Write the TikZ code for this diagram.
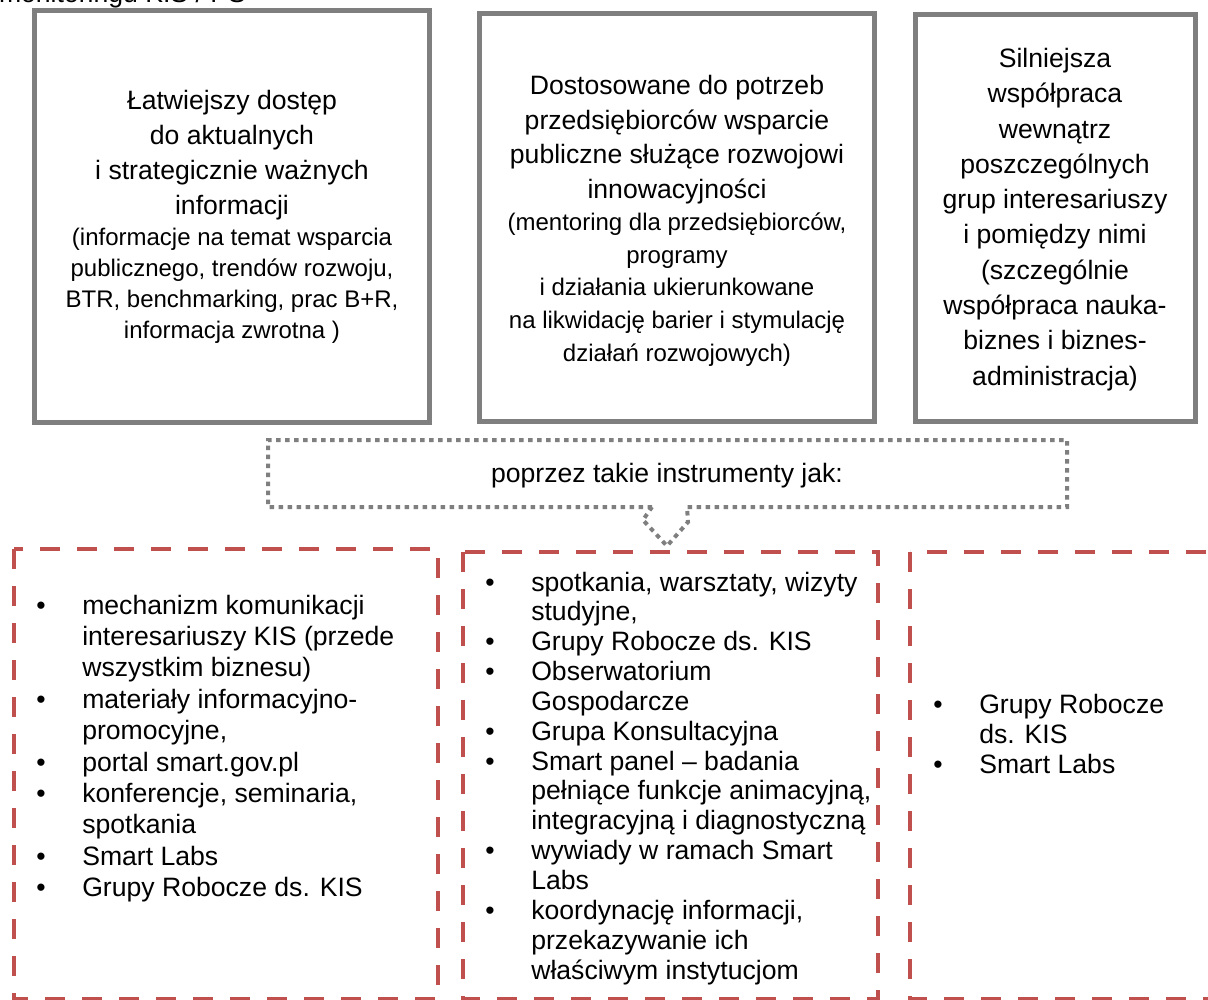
\documentclass[tikz,border=0pt]{standalone}
\usepackage{fontspec}
\setmainfont{Liberation Sans}
\definecolor{boxgray}{HTML}{7F7F7F}
\definecolor{accred}{HTML}{C0504D}
\newcommand\lbul{\makebox[46pt][l]{•}}
\newcommand\lind{\hspace*{46pt}}
\begin{document}
\begin{tikzpicture}[x=1pt,y=-1pt,
  graybox/.style={draw=boxgray, line width=5pt},
  redbox/.style={draw=accred, line width=4pt, dash pattern=on 20pt off 17pt},
  dotbox/.style={draw=boxgray, line width=4pt, dash pattern=on 4.5pt off 4.5pt},
  txt/.style={inner sep=0pt, outer sep=0pt, anchor=base},
  lst/.style={inner sep=0pt, outer sep=0pt, anchor=base west}]
\useasboundingbox (0,0) rectangle (1208,1000);
\fill[white] (0,0) rectangle (1208,1000);

% cut-off heading (cut by the page edge, as in the reference)
\node[lst, font=\fontsize{26.6}{30}\selectfont] (head) at (-1,3) {monitoringu KIS / PS};

% top gray boxes
\draw[graybox] (34.5,10.5) rectangle (429.5,422.5);
\draw[graybox] (479.5,13.5) rectangle (874.5,421);
\draw[graybox] (915.5,14.5) rectangle (1195,421);

\node[txt, font=\fontsize{26.6}{35}\selectfont] (t1a) at (232,109.5)
  {\begin{tabular}[t]{@{}c@{}}Łatwiejszy dostęp\\do aktualnych\\ i strategicznie ważnych\\informacji\end{tabular}};
\node[txt, font=\fontsize{24}{31}\selectfont] (t1b) at (232,246)
  {\begin{tabular}[t]{@{}c@{}}(informacje na temat wsparcia\\publicznego, trendów rozwoju,\\BTR, benchmarking, prac B+R,\\informacja zwrotna )\end{tabular}};

\node[txt, font=\fontsize{26.6}{34.7}\selectfont] (t2a) at (677,94.5)
  {\begin{tabular}[t]{@{}c@{}}Dostosowane do potrzeb\\przedsiębiorców wsparcie\\publiczne służące rozwojowi\\innowacyjności\end{tabular}};
\node[txt, font=\fontsize{24}{32.7}\selectfont] (t2b) at (677,230.5)
  {\begin{tabular}[t]{@{}c@{}}(mentoring dla przedsiębiorców,\\programy\\i działania ukierunkowane\\na likwidację barier i stymulację\\działań rozwojowych)\end{tabular}};

\node[txt, font=\fontsize{26.6}{35.3}\selectfont] (t3) at (1055,67.5)
  {\begin{tabular}[t]{@{}c@{}}Silniejsza\\współpraca\\wewnątrz\\poszczególnych\\grup interesariuszy\\ i pomiędzy nimi\\(szczególnie\\współpraca nauka-\\biznes i biznes-\\administracja)\end{tabular}};

% dotted callout
\draw[dotbox] (652,507) -- (268,507) -- (268,440) -- (1067,440) -- (1067,507) -- (687,507)
  -- (688,522) -- (667,546) -- (643,520) -- cycle;
\node[txt, font=\fontsize{26.6}{30}\selectfont] (via) at (667,482) {poprzez takie instrumenty jak:};

% red dashed boxes
\draw[redbox] (14,549) rectangle (438,999);
\draw[redbox] (463,552) rectangle (878,999);
\draw[redbox] (910,552) rectangle (1240,999);

\node[lst, font=\fontsize{26.6}{31.4}\selectfont] (l1) at (36.3,614)
  {\begin{tabular}[t]{@{}l@{}}
  \lbul mechanizm komunikacji\\
  \lind interesariuszy KIS (przede\\
  \lind wszystkim biznesu)\\
  \lbul materiały informacyjno-\\
  \lind promocyjne,\\
  \lbul portal smart.gov.pl\\
  \lbul konferencje, seminaria,\\
  \lind spotkania\\
  \lbul Smart Labs\\
  \lbul Grupy Robocze ds. KIS
  \end{tabular}};

\node[lst, font=\fontsize{26.6}{29.85}\selectfont] (l2) at (485.3,591)
  {\begin{tabular}[t]{@{}l@{}}
  \lbul spotkania, warsztaty, wizyty\\
  \lind studyjne,\\
  \lbul Grupy Robocze ds. KIS\\
  \lbul Obserwatorium\\
  \lind Gospodarcze\\
  \lbul Grupa Konsultacyjna\\
  \lbul Smart panel – badania\\
  \lind pełniące funkcje animacyjną,\\
  \lind integracyjną i diagnostyczną\\
  \lbul wywiady w ramach Smart\\
  \lind Labs\\
  \lbul koordynację informacji,\\
  \lind przekazywanie ich\\
  \lind właściwym instytucjom
  \end{tabular}};

\node[lst, font=\fontsize{26.6}{30}\selectfont] (l3) at (933.3,713)
  {\begin{tabular}[t]{@{}l@{}}
  \lbul Grupy Robocze\\
  \lind ds. KIS\\
  \lbul Smart Labs
  \end{tabular}};
\end{tikzpicture}
\end{document}
